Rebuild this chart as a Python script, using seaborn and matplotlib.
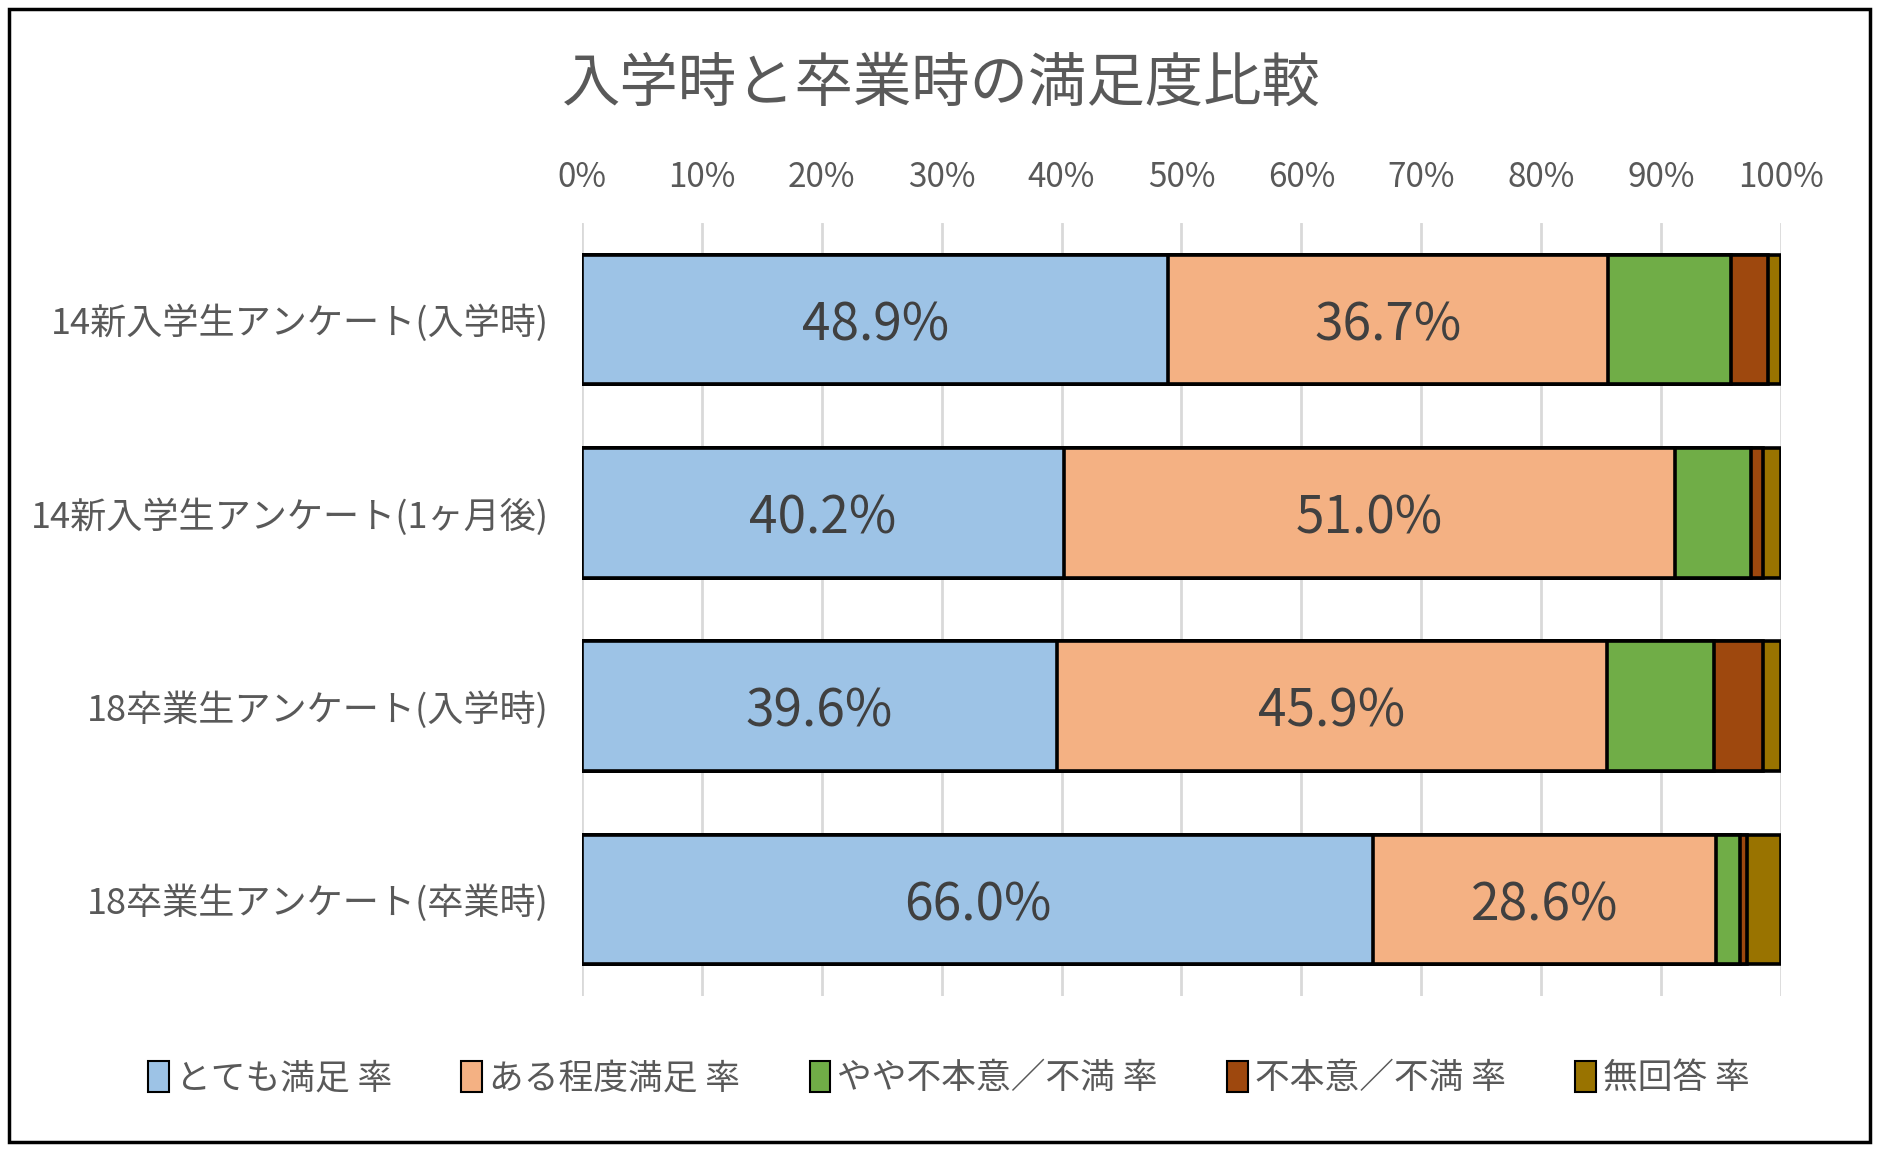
import numpy as np
import pandas as pd
import matplotlib
matplotlib.use('Agg')
import matplotlib.pyplot as plt
import matplotlib.patches as mpatches
from matplotlib.ticker import PercentFormatter
import seaborn as sns

# data
categories = ['14新入学生アンケート(入学時)', '14新入学生アンケート(1ヶ月後)',
              '18卒業生アンケート(入学時)', '18卒業生アンケート(卒業時)']
series = ['とても満足 率', 'ある程度満足 率', 'やや不本意／不満 率', '不本意／不満 率', '無回答 率']
very_satisfied = [48.9, 40.2, 39.6, 66.0]
somewhat_satisfied = [36.7, 51.0, 45.9, 28.6]
slightly_unhappy = [10.2, 6.3, 8.9, 2.0]
unhappy = [3.1, 1.0, 4.1, 0.6]
no_answer = [1.1, 1.5, 1.5, 2.8]
colors = ['#9DC3E6', '#F4B183', '#70AD47', '#9E480E', '#997300']

sns.set_theme(style='white')
plt.rcParams['font.family'] = ['Noto Sans CJK JP', 'DejaVu Sans']
grey = '#595959'

df = pd.DataFrame({'cat': categories})
vals = [very_satisfied, somewhat_satisfied, slightly_unhappy, unhappy, no_answer]
cum = np.cumsum(np.array(vals), axis=0)

fig = plt.figure(figsize=(18.79, 11.51), dpi=100)
ax = fig.add_axes([0.3097, 0.1347, 0.9478 - 0.3097, 0.8063 - 0.1347])

# stacked bars: draw cumulative totals from the back
for i in range(len(series) - 1, -1, -1):
    df['v'] = cum[i]
    sns.barplot(data=df, x='v', y='cat', color=colors[i], orient='h',
                width=0.67, edgecolor='black', linewidth=2.6, ax=ax,
                saturation=1)

ax.set_xlim(0, 100)
ax.set_ylim(3.5, -0.5)
ax.xaxis.set_major_locator(plt.MultipleLocator(10))
ax.xaxis.set_major_formatter(PercentFormatter(decimals=0))
ax.xaxis.tick_top()
ax.tick_params(axis='x', length=0, pad=20, labelsize=24, labelcolor=grey)
ax.tick_params(axis='y', length=0, pad=24, labelsize=26, labelcolor=grey)
ax.set_xlabel('')
ax.set_ylabel('')
ax.grid(axis='x', color='#d9d9d9', linewidth=2)
ax.set_axisbelow(True)
for s in ax.spines.values():
    s.set_visible(False)

# data labels for the two large segments
for j in range(len(categories)):
    ax.text(very_satisfied[j] / 2, j, f'{very_satisfied[j]:.1f}%', ha='center',
            va='center_baseline', fontsize=37, color='#404040')
    ax.text(very_satisfied[j] + somewhat_satisfied[j] / 2, j,
            f'{somewhat_satisfied[j]:.1f}%', ha='center', va='center_baseline',
            fontsize=37, color='#404040')

fig.text(0.501, 0.927, '入学時と卒業時の満足度比較', ha='center', va='center',
         fontsize=42, color=grey)

handles = [mpatches.Patch(facecolor=c, edgecolor='black', linewidth=1.5) for c in colors]
fig.legend(handles, series, loc='center', bbox_to_anchor=(0.505, 0.063), ncol=5,
           frameon=False, fontsize=25, labelcolor=grey, handlelength=0.6,
           handleheight=1.0, handletextpad=0.2, columnspacing=2.0)

fig.patches.append(mpatches.Rectangle((0.005, 0.008), 0.99, 0.984, transform=fig.transFigure,
                                      fill=False, edgecolor='black', linewidth=2.5))

fig.savefig('out.png', dpi=100)
